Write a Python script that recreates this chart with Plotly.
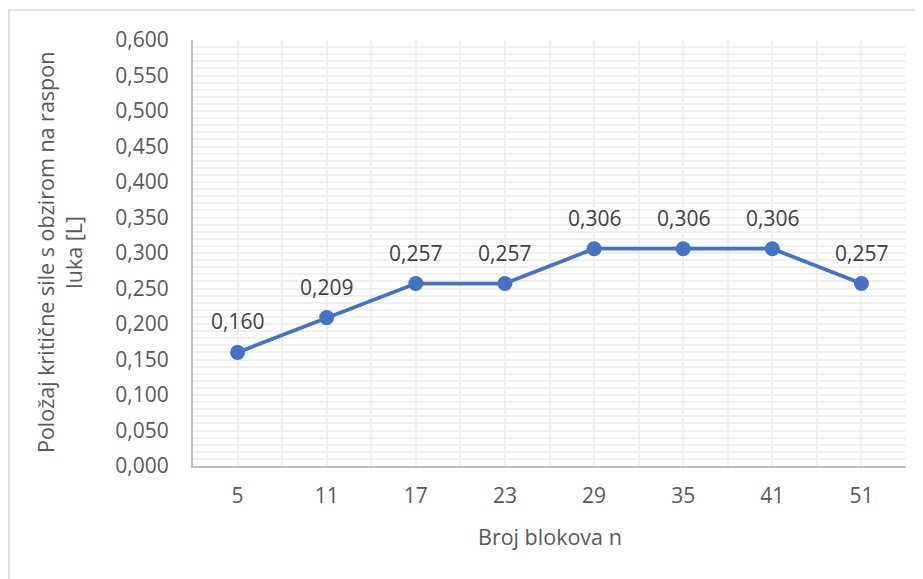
import plotly.graph_objects as go

categories = ["5", "11", "17", "23", "29", "35", "41", "51"]
values = [0.160, 0.209, 0.257, 0.257, 0.306, 0.306, 0.306, 0.257]
y_ticks = [round(i * 0.05, 3) for i in range(13)]

xs = list(range(len(categories)))
blue = "#4472C4"
txt = "#595959"
font_family = "'Open Sans', sans-serif"

# page is offset by the 8px body margin
L, T, W, H = 185, 32, 713, 426

fig = go.Figure()
fig.add_trace(go.Scatter(
    x=xs, y=values, mode="lines+markers",
    line=dict(color=blue, width=3.75),
    marker=dict(color=blue, size=15),
    hoverinfo="skip", showlegend=False,
))

for x, v in zip(xs, values):
    fig.add_annotation(x=x, y=v, text=f"{v:.3f}".replace(".", ","),
                       showarrow=False, yshift=31,
                       font=dict(family=font_family, size=21, color="#404040"))

fig.add_annotation(xref="paper", yref="paper", x=(51 - L) / W, y=0.5,
                   text="Položaj kritične sile s obzirom na raspon<br>luka [L]",
                   textangle=-90, showarrow=False, xanchor="center", yanchor="middle",
                   font=dict(family=font_family, size=21.5, color=txt))
fig.add_annotation(xref="paper", yref="paper", x=0.5, y=-(528 - (T + H)) / H,
                   text="Broj blokova n", showarrow=False,
                   xanchor="center", yanchor="middle",
                   font=dict(family=font_family, size=21.5, color=txt))

fig.update_layout(
    width=923, height=579,
    margin=dict(l=L, r=923 - L - W, t=T, b=579 - T - H),
    plot_bgcolor="white", paper_bgcolor="white",
    font=dict(family=font_family, size=21, color=txt),
    xaxis=dict(
        range=[-0.5, 7.5], tickvals=xs, ticktext=categories,
        showgrid=True, gridcolor="#f0f0f0", gridwidth=2,
        minor=dict(dtick=0.5, tick0=-0.5, showgrid=True, gridcolor="#f0f0f0", gridwidth=2),
        showline=True, linecolor="#bfbfbf", linewidth=2,
        ticks="", zeroline=False, ticklabelstandoff=10,
        tickfont=dict(size=21, color=txt),
    ),
    yaxis=dict(
        range=[0, 0.6], tickvals=y_ticks,
        ticktext=[f"{t:.3f}".replace(".", ",") for t in y_ticks],
        showgrid=True, gridcolor="#f0f0f0", gridwidth=2,
        minor=dict(dtick=0.01, showgrid=True, gridcolor="#f0f0f0", gridwidth=2),
        showline=True, linecolor="#bfbfbf", linewidth=2,
        ticks="", zeroline=False, ticklabelstandoff=18,
        tickfont=dict(size=21, color=txt),
    ),
    shapes=[dict(type="rect", xref="paper", yref="paper",
                 x0=(1 - L) / W, x1=1.5,
                 y0=-0.6, y1=1 + (T - 2) / H,
                 line=dict(color="#d9d9d9", width=1.5), fillcolor="rgba(0,0,0,0)",
                 layer="below")],
)

fig.write_html("out.html")
